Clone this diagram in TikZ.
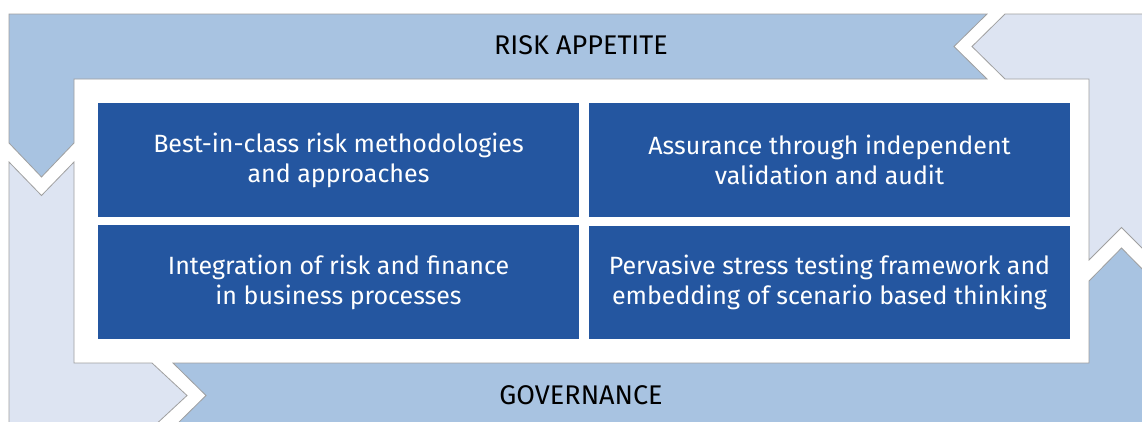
\documentclass[tikz,border=0pt]{standalone}
\usepackage{fontspec}
\setmainfont{Fira Sans}
\definecolor{boxblue}{HTML}{2456A0}
\definecolor{bandmid}{HTML}{A8C3E1}
\definecolor{bandlight}{HTML}{DDE4F2}
\definecolor{edgegray}{HTML}{A0A0A0}

\begin{document}
\begin{tikzpicture}[x=1pt,y=-1pt,
    band/.style={draw=edgegray, line width=0.8pt},
    panel/.style={fill=boxblue, text=white, minimum width=481pt, minimum height=114pt,
      inner sep=0pt, align=center, font=\fontsize{25}{30}\selectfont},
    heading/.style={text=black, font=\fontsize{27}{30}\selectfont}]
    \useasboundingbox (0,0) rectangle (1142,421);
    \clip (0,0) rectangle (1142,421);

    \fill[white] (0,0) rectangle (1142,421);

    % four arrows round the frame
    \draw[band, fill=bandmid] (987,14) -- (9,14) -- (9,143) -- (41.5,177) -- (74,143)
        -- (74,79) -- (987,79) -- (954,46.5) -- cycle; % top
    \draw[band, fill=bandlight] (1005,14) -- (1154,14) -- (1154,260) -- (1121.5,227.5)
        -- (1089,260) -- (1089,79) -- (1005,79) -- (972,46.5) -- cycle; % right
    \draw[band, fill=bandmid] (1121.5,248) -- (1154,281) -- (1154,428) -- (173,428)
        -- (206,395.5) -- (173,363) -- (1089,363) -- (1089,281) -- cycle; % bottom
    \draw[band, fill=bandlight] (9,162) -- (41.5,195.5) -- (74,162) -- (74,363)
        -- (152,363) -- (187,395.5) -- (152,428) -- (9,428) -- cycle; % left

    \node[heading] (appetite) at (581,45) {RISK APPETITE};
    \node[heading] (governance) at (581,395) {GOVERNANCE};

    \node[panel] (methods) at (338.5,160) {Best-in-class risk methodologies\\and approaches};
    \node[panel] (assurance) at (829.5,160) {Assurance through independent\\validation and audit};
    \node[panel, minimum height=113.5pt] (finance) at (338.5,282) {Integration of risk and finance\\in business processes};
    \node[panel, minimum height=113.5pt] (stress) at (829.5,282.5) {Pervasive stress testing framework and\\embedding of scenario based thinking};
\end{tikzpicture}
\end{document}
